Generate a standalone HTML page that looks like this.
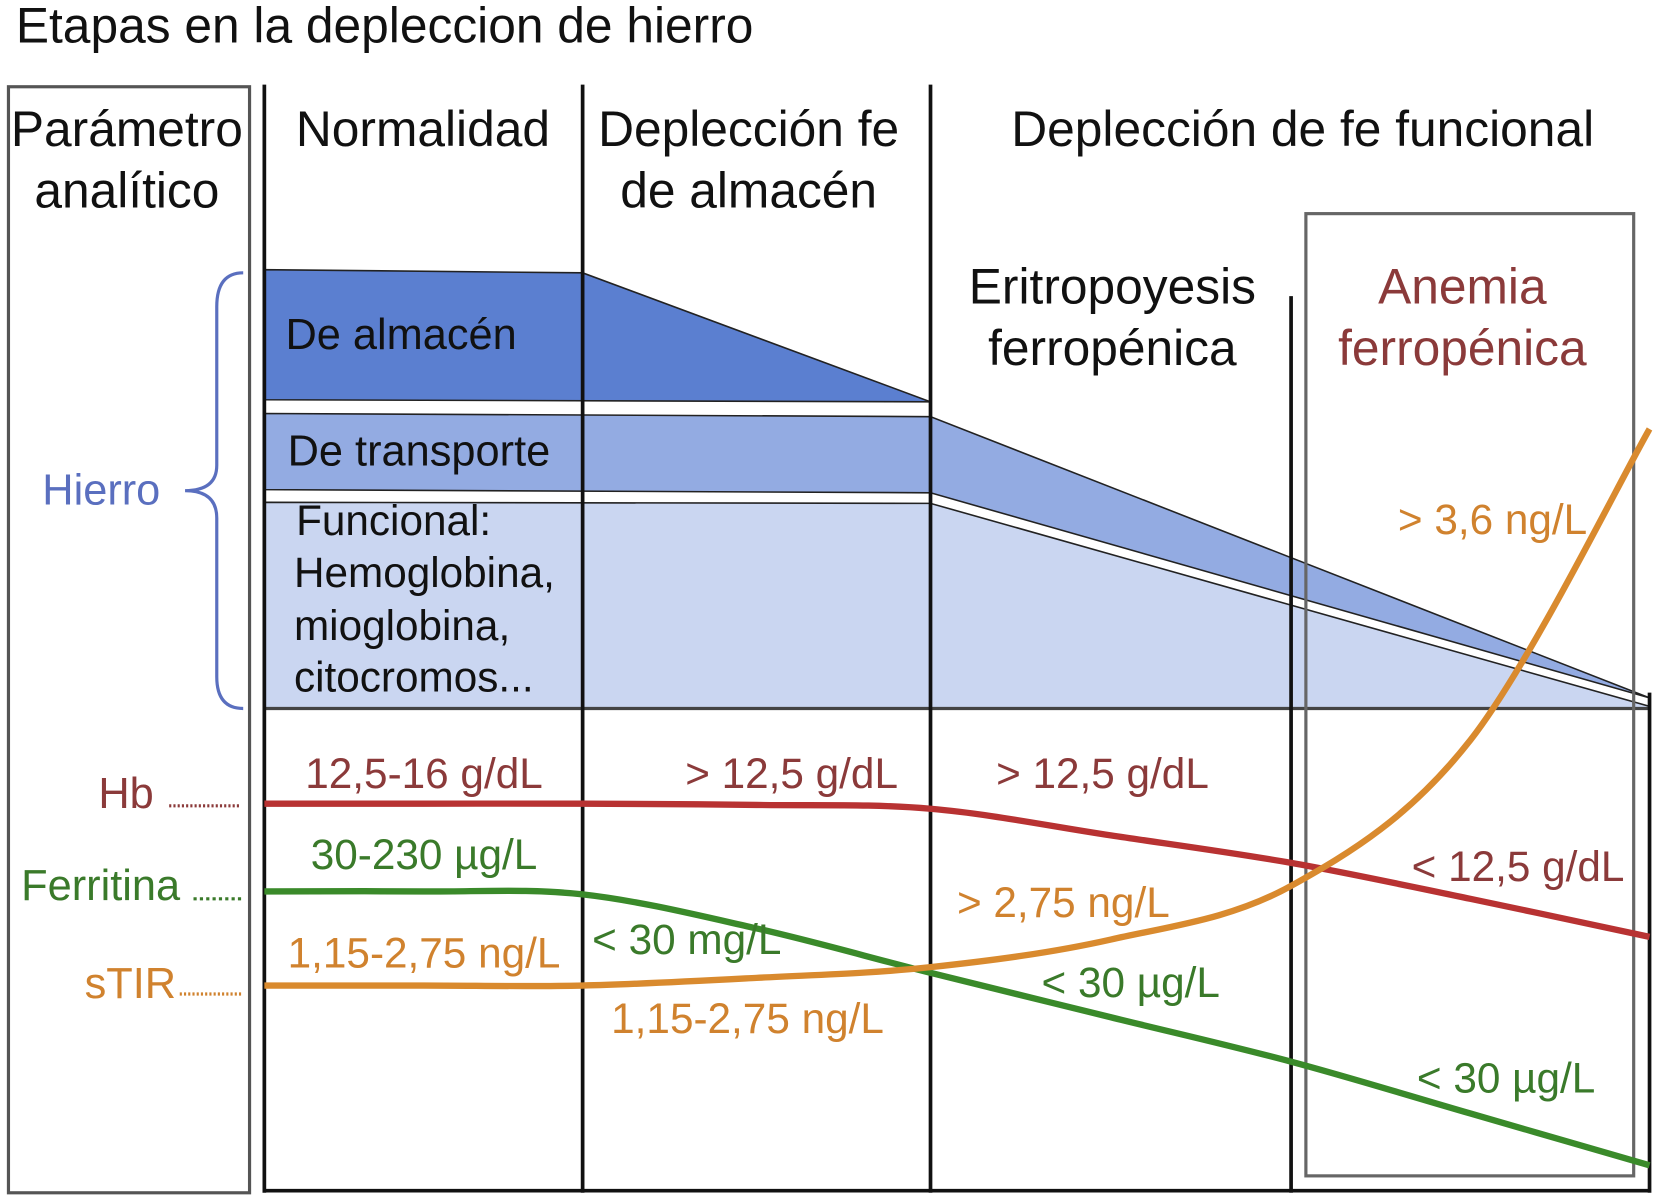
<!DOCTYPE html>
<html><head><meta charset="utf-8"><style>
html,body{margin:0;padding:0;background:#fff;}
svg{display:block;font-family:"Liberation Sans",sans-serif;}
</style></head><body>
<svg id="chart" width="1658" height="1196" viewBox="0 0 1568 1131" xmlns="http://www.w3.org/2000/svg">
<text x="15" y="40" font-size="47" fill="#111">Etapas en la depleccion de hierro</text>
<rect x="8" y="82" width="228" height="1046" fill="none" stroke="#555" stroke-width="3"/>
<polygon points="250,255 551,258 880,380 250,378" fill="#5b7fd0" stroke="#222" stroke-width="1.5"/>
<polygon points="250,391 880,394 1560,660 880,466 250,463" fill="#93abe2" stroke="#222" stroke-width="1.5"/>
<polygon points="250,475 880,476 1560,668 1560,670 250,670" fill="#cad6f1" stroke="#222" stroke-width="1.5"/>
<line x1="250" y1="670" x2="1560" y2="670" stroke="#444" stroke-width="3"/>
<text x="270" y="330" font-size="41" fill="#111">De almacén</text>
<text x="272" y="440" font-size="41" fill="#111">De transporte</text>
<g font-size="40" fill="#111">
<text x="280" y="506">Funcional:</text><text x="278" y="555">Hemoglobina,</text><text x="278" y="605">mioglobina,</text><text x="278" y="654">citocromos...</text></g>
<rect x="1235" y="202" width="310" height="910" fill="none" stroke="#666" stroke-width="3"/>
<g stroke="#111" stroke-width="3.5">
<line x1="250" y1="80" x2="250" y2="1128"/><line x1="551" y1="80" x2="551" y2="1128"/>
<line x1="880" y1="80" x2="880" y2="1128"/><line x1="1221" y1="280" x2="1221" y2="1128"/>
<line x1="1560" y1="655" x2="1560" y2="1128"/><line x1="250" y1="1126" x2="1560" y2="1126"/>
</g>
<g font-size="47" fill="#111" text-anchor="middle">
<text x="120" y="138">Parámetro<tspan x="120" y="196">analítico</tspan></text>
<text x="400" y="138">Normalidad</text>
<text x="708" y="138">Deplección fe<tspan x="708" y="196">de almacén</tspan></text>
<text x="1232" y="138">Deplección de fe funcional</text>
<text x="1052" y="287">Eritropoyesis<tspan x="1052" y="345">ferropénica</tspan></text>
<text x="1383" y="287" fill="#8b3a3a">Anemia<tspan x="1383" y="345">ferropénica</tspan></text>
</g>
<path d="M230,258 Q205,258 205,290 L205,440 Q205,464 175,464 Q205,464 205,490 L205,640 Q205,670 230,670" fill="none" stroke="#5a6fbf" stroke-width="3"/>
<text x="40" y="477" font-size="41" fill="#5a6fbf">Hierro</text>
<text x="93" y="764" font-size="41" fill="#8b3a3a">Hb</text>
<line x1="160" y1="762" x2="228" y2="762" stroke="#8b3a3a" stroke-width="3" stroke-dasharray="2,2"/>
<text x="20" y="851" font-size="41" fill="#3a7a2a">Ferritina</text>
<line x1="183" y1="850" x2="228" y2="850" stroke="#3a7a2a" stroke-width="3" stroke-dasharray="3,3"/>
<text x="80" y="944" font-size="41" fill="#d0822e">sTIR</text>
<line x1="170" y1="940" x2="228" y2="940" stroke="#d0822e" stroke-width="3" stroke-dasharray="2,2"/>
<g id="series"></g>
<g font-size="40">
<text x="401" y="745" text-anchor="middle" fill="#8b3a3a">12,5-16 g/dL</text>
<text x="648" y="745" fill="#8b3a3a">&gt; 12,5 g/dL</text>
<text x="942" y="745" fill="#8b3a3a">&gt; 12,5 g/dL</text>
<text x="1335" y="833" fill="#8b3a3a">&lt; 12,5 g/dL</text>
<text x="401" y="822" text-anchor="middle" fill="#3a7a2a">30-230 µg/L</text>
<text x="560" y="902" fill="#3a7a2a">&lt; 30 mg/L</text>
<text x="985" y="943" fill="#3a7a2a">&lt; 30 µg/L</text>
<text x="1340" y="1033" fill="#3a7a2a">&lt; 30 µg/L</text>
<text x="401" y="915" text-anchor="middle" fill="#d0822e">1,15-2,75 ng/L</text>
<text x="578" y="977" fill="#d0822e">1,15-2,75 ng/L</text>
<text x="905" y="867" fill="#d0822e">&gt; 2,75 ng/L</text>
<text x="1322" y="505" fill="#d0822e">&gt; 3,6 ng/L</text>
</g>
</svg>
<script>
const stageX = [0, 0.5, 1, 1.5, 2, 2.5, 3, 3.5, 4];
const hbValues = [14.5, 14.5, 14.5, 14.47, 14.38, 13.75, 13.1, 12.25, 11.35];
const ferritinValues = [130, 130, 128, 105, 75, 45, 15, -20, -55];
const stirValues = [1.7, 1.7, 1.7, 1.75, 1.82, 2.0, 2.35, 3.3, 5.33];
const stageEdges = [250, 551, 880, 1221, 1560];
function xScale(s){const i=Math.min(Math.floor(s),3);return stageEdges[i]+(s-i)*(stageEdges[i+1]-stageEdges[i]);}
function yHb(v){return 760+(14.5-v)*40;}
function yFer(v){return 843-(v-130)*1.4;}
function ySTIR(v){return 932-(v-1.7)*145;}
function smoothPath(xs,ys){
  let d='M'+xs[0]+','+ys[0];
  for(let i=0;i<xs.length-1;i++){
    const x0=xs[Math.max(i-1,0)],y0=ys[Math.max(i-1,0)],x1=xs[i],y1=ys[i],x2=xs[i+1],y2=ys[i+1],x3=xs[Math.min(i+2,xs.length-1)],y3=ys[Math.min(i+2,xs.length-1)];
    d+=' C'+(x1+(x2-x0)/6)+','+(y1+(y2-y0)/6)+' '+(x2-(x3-x1)/6)+','+(y2-(y3-y1)/6)+' '+x2+','+y2;
  }
  return d;
}
const g=document.getElementById('series');
function draw(vals,yf,color,name){
  const p=document.createElementNS('http://www.w3.org/2000/svg','path');
  p.setAttribute('d',smoothPath(stageX.map(xScale),vals.map(yf)));
  p.setAttribute('fill','none');p.setAttribute('stroke',color);p.setAttribute('stroke-width','6');
  
  
  g.appendChild(p);
}
draw(hbValues,yHb,'#b83232','hb-line');
draw(ferritinValues,yFer,'#3a8a2a','ferritin-line');
draw(stirValues,ySTIR,'#d98a2e','stir-line');
</script>
</body></html>
